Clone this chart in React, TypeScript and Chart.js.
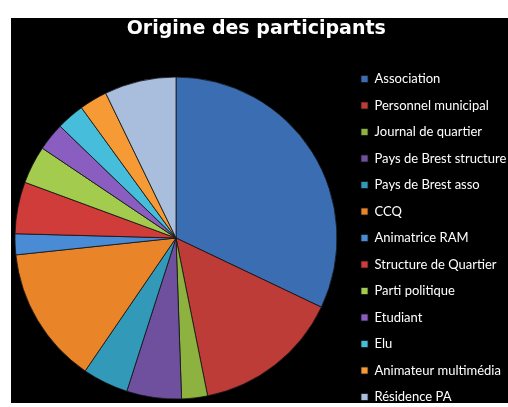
import React, { useEffect, useRef } from "react";
import { Chart, registerables } from "chart.js";

Chart.register(...registerables);

const categories = [
  "Association",
  "Personnel municipal",
  "Journal de quartier",
  "Pays de Brest structure",
  "Pays de Brest asso",
  "CCQ",
  "Animatrice RAM",
  "Structure de Quartier",
  "Parti politique",
  "Etudiant",
  "Elu",
  "Animateur multimédia",
  "Résidence PA",
];

const values = [32.1, 14.8, 2.6, 5.5, 4.6, 13.8, 2.1, 5.2, 3.8, 2.8, 2.8, 2.8, 7.2];

const colors = [
  "#3b6db2",
  "#bd3c38",
  "#8db23f",
  "#6f509f",
  "#3399b9",
  "#ea8429",
  "#4a8bd6",
  "#cf3c3a",
  "#a3cb4d",
  "#8a5dc0",
  "#45bddb",
  "#f69a35",
  "#a9bddc",
];

const title = "Origine des participants";

const App = () => {
  const canvasRef = useRef<HTMLCanvasElement>(null);
  const chartRef = useRef<Chart | null>(null);

  useEffect(() => {
    if (!canvasRef.current) return;

    chartRef.current?.destroy();

    chartRef.current = new Chart(canvasRef.current, {
      type: "pie",
      data: {
        labels: categories,
        datasets: [
          {
            data: values,
            backgroundColor: colors,
            borderColor: "rgba(20,20,20,0.8)",
            borderWidth: 1,
            radius: 161,
          },
        ],
      },
      options: {
        responsive: false,
        animation: false,
        layout: {
          padding: { left: 13.5, right: 3, top: 0, bottom: 0 },
        },
        plugins: {
          title: {
            display: true,
            text: title,
            color: "#ffffff",
            font: { family: "DejaVu Sans", size: 19, weight: "bold" },
            padding: { top: 9.3, bottom: 18.9 },
          },
          legend: {
            position: "right",
            fullSize: false,
            maxWidth: 160.5,
            labels: {
              color: "#ffffff",
              boxWidth: 7,
              boxHeight: 7,
              padding: 13.5,
              font: { family: "Lato", size: 13 },
            },
          },
          tooltip: { enabled: false },
        },
      },
    });

    return () => chartRef.current?.destroy();
  }, []);

  return (
    <div
      style={{
        position: "absolute",
        left: 11,
        top: 18,
        width: 497,
        height: 385,
        background: "#000",
        overflow: "hidden",
      }}
    >
      <canvas
        ref={canvasRef}
        width={520}
        height={409}
        style={{ position: "absolute", left: -20, top: -10, width: 520, height: 409 }}
      />
    </div>
  );
};

export default App;
